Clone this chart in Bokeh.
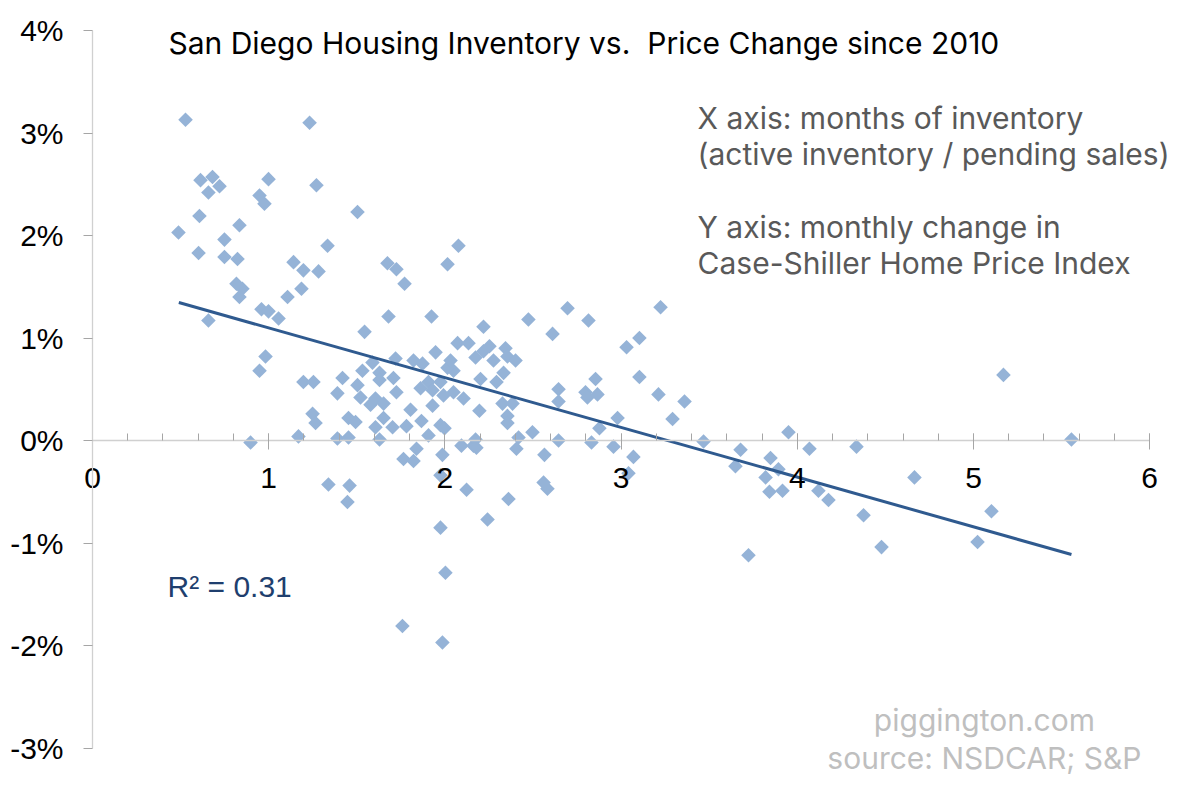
import math
from bokeh.plotting import figure
from bokeh.models import Range1d, Label, FixedTicker, PrintfTickFormatter
from bokeh.embed import file_html
from bokeh.resources import INLINE

# months of inventory (x) and monthly Case-Shiller change in % (y)
months_inventory = [
    0.528, 1.232, 0.613, 0.681, 0.721, 0.658, 0.999, 1.271, 0.948, 0.976,
    1.504, 0.607, 0.488, 0.834, 0.749, 1.334, 0.602, 0.749, 0.823, 1.141,
    1.197, 1.283, 1.674, 1.725, 1.771, 0.817, 0.851, 0.834, 1.186, 1.107,
    0.959, 0.999, 1.056, 0.658, 1.680, 1.544, 2.015, 2.077,
    0.982, 0.948, 1.197, 1.254, 1.390, 1.419, 1.504, 1.532, 1.521, 1.578,
    1.606, 1.629, 1.629, 1.652, 1.708, 1.720, 1.725, 1.589, 1.652, 1.249,
    1.266, 1.453, 1.493, 1.606, 1.703, 1.169, 1.390, 1.453, 1.629, 0.897,
    1.339, 1.459, 1.447,
    1.805, 1.822, 1.873, 1.947, 2.072, 2.134, 2.174, 1.862, 1.907, 1.930,
    1.975, 1.992, 2.049, 2.106, 1.930, 2.049, 2.015, 1.782, 1.867, 1.907,
    1.975, 1.998, 2.094, 2.162, 1.839, 1.765, 1.822, 1.986,
    1.924, 2.219, 2.474, 2.696, 2.815, 3.224, 2.611, 3.104, 3.031, 2.219,
    2.253, 2.344, 2.276, 2.355, 2.401, 2.032, 2.202, 2.293, 2.333, 2.327,
    2.384, 2.355, 2.355, 2.196, 2.645, 2.645, 2.798, 2.809, 2.855, 2.866,
    3.104, 3.212, 3.360, 3.292, 2.980, 2.877, 2.497, 2.418, 2.174, 2.645,
    2.832, 2.957, 2.179, 2.406, 2.565, 3.070, 1.975, 2.123, 2.361, 2.242,
    1.975, 2.560, 2.582, 3.042, 3.468, 3.678, 3.649, 3.848, 3.893, 3.820,
    3.842, 3.916, 3.950, 4.069, 4.336, 4.120, 4.177, 4.376, 4.665, 5.102,
    5.170, 5.556, 4.478, 5.023, 2.003, 1.759, 1.986, 3.723,
]
price_change_pct = [
    3.13, 3.10, 2.54, 2.57, 2.48, 2.42, 2.55, 2.49, 2.39, 2.31,
    2.23, 2.19, 2.03, 2.10, 1.96, 1.90, 1.83, 1.79, 1.77, 1.74,
    1.66, 1.65, 1.73, 1.67, 1.53, 1.53, 1.48, 1.40, 1.48, 1.40,
    1.28, 1.26, 1.19, 1.17, 1.21, 1.06, 1.72, 1.90,
    0.82, 0.68, 0.57, 0.57, 0.46, 0.61, 0.54, 0.68, 0.42, 0.35,
    0.41, 0.66, 0.59, 0.36, 0.61, 0.80, 0.47, 0.76, 0.22, 0.26,
    0.17, 0.22, 0.18, 0.13, 0.13, 0.04, 0.02, 0.03, 0.01, -0.02,
    -0.43, -0.44, -0.60,
    0.30, 0.78, 0.75, 0.86, 0.95, 0.95, 0.81, 0.51, 0.57, 0.49,
    0.57, 0.44, 0.47, 0.41, 0.34, 0.68, 0.71, 0.14, 0.19, 0.05,
    0.15, 0.12, -0.05, -0.05, -0.08, -0.18, -0.20, -0.14,
    1.21, 1.11, 1.18, 1.29, 1.17, 1.30, 1.04, 1.00, 0.91, 0.87,
    0.92, 0.90, 0.78, 0.82, 0.78, 0.78, 0.60, 0.57, 0.66, 0.36,
    0.36, 0.24, 0.17, 0.29, 0.50, 0.38, 0.47, 0.42, 0.60, 0.45,
    0.62, 0.45, 0.38, 0.21, 0.22, 0.12, 0.08, 0.03, 0.01, 0.00,
    -0.02, -0.06, -0.07, -0.08, -0.14, -0.16, -0.34, -0.48, -0.57, -0.77,
    -0.85, -0.41, -0.47, -0.32, -0.01, -0.09, -0.25, -0.17, -0.28, -0.36,
    -0.50, -0.49, 0.08, -0.08, -0.06, -0.49, -0.58, -0.73, -0.36, -0.69,
    0.64, 0.01, -1.04, -0.99, -1.29, -1.81, -1.97, -1.12,
]

# linear trend line endpoints
trend_x = [0.49, 5.556]
trend_y = [1.346, -1.112]

x_ticks = [0, 1, 2, 3, 4, 5, 6]
y_ticks = [-3, -2, -1, 0, 1, 2, 3, 4]

title_text = "San Diego Housing Inventory vs.\u00a0 Price Change since 2010"
note_lines = [
    "X axis: months of inventory",
    "(active inventory / pending sales)",
    "Y axis: monthly change in",
    "Case-Shiller Home Price Index",
]
r2_text = "R\u00b2 = 0.31"
source_lines = ["piggington.com", "source: NSDCAR; S&P"]

SANS = "Inter"
TICKFONT = "Liberation Sans"

# the frame fills the whole canvas; axes sit at x=0 / y=0 with fixed bounds
p = figure(width=1190, height=790,
           x_range=Range1d(-0.5221, 6.2316), y_range=Range1d(-3.4146, 4.2927),
           output_backend="svg", toolbar_location=None,
           min_border_left=0, min_border_right=0,
           min_border_top=0, min_border_bottom=0)
p.outline_line_color = None
p.grid.visible = False
p.background_fill_color = "white"

xa = p.xaxis[0]
xa.fixed_location = 0
xa.bounds = (0, 6)
xa.ticker = FixedTicker(ticks=x_ticks,
                        minor_ticks=[i * 0.2 for i in range(31)])
xa.axis_line_color = "#d0d0d0"
xa.axis_line_width = 1.3
xa.major_tick_line_color = "#a6a6a6"
xa.minor_tick_line_color = "#a6a6a6"
xa.major_tick_in = 7
xa.major_tick_out = 9
xa.minor_tick_in = 7
xa.minor_tick_out = 0
xa.major_label_standoff = 18
xa.major_label_text_font = TICKFONT
xa.major_label_text_font_size = "30px"
xa.major_label_text_color = "black"

ya = p.yaxis[0]
ya.fixed_location = 0
ya.bounds = (-3, 4)
ya.ticker = FixedTicker(ticks=y_ticks, minor_ticks=[])
ya.formatter = PrintfTickFormatter(format="%d%%")
ya.axis_line_color = "#d0d0d0"
ya.axis_line_width = 1.3
ya.major_tick_line_color = "#a6a6a6"
ya.major_tick_in = 0
ya.major_tick_out = 9
ya.minor_tick_in = 0
ya.minor_tick_out = 0
ya.major_label_standoff = 20
ya.major_label_text_font = TICKFONT
ya.major_label_text_font_size = "30px"
ya.major_label_text_color = "black"

p.scatter(months_inventory, price_change_pct, marker="square", size=10.3,
          angle=math.pi / 4, fill_color="#95B3D7", line_color=None)
p.line(trend_x, trend_y, line_color="#2F5A8F", line_width=3)

p.add_layout(Label(x=0.431, y=3.880, text=title_text, text_font=SANS,
                   text_font_size="30px", text_color="black",
                   text_baseline="alphabetic"))
for txt, yy in zip(note_lines, [3.150, 2.799, 2.086, 1.735]):
    p.add_layout(Label(x=3.434, y=yy, text=txt, text_font=SANS,
                       text_font_size="30px", text_color="#595959",
                       text_baseline="alphabetic"))
p.add_layout(Label(x=0.426, y=-1.425, text=r2_text, text_font=TICKFONT,
                   text_font_size="30px", text_color="#1F3F6E",
                   text_baseline="alphabetic"))
for txt, yy in zip(source_lines, [-2.723, -3.094]):
    p.add_layout(Label(x=5.062, y=yy, text=txt, text_font=SANS,
                       text_font_size="30px", text_color="#BFBFBF",
                       text_align="center", text_baseline="alphabetic"))

open("out.html", "w").write(file_html(p, INLINE))
